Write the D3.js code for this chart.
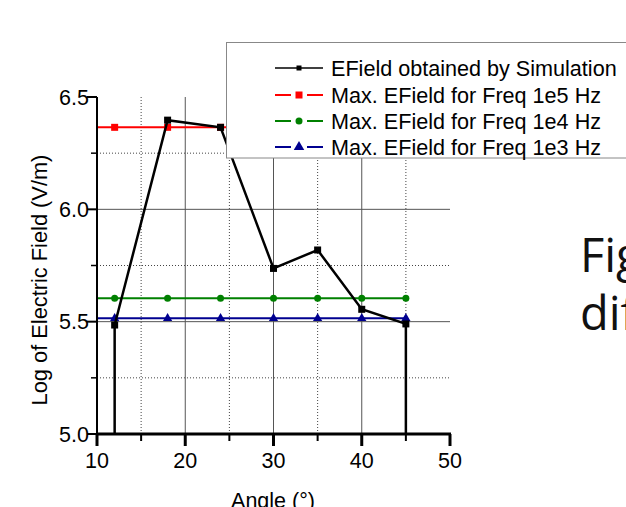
<!DOCTYPE html>
<html><head><meta charset="utf-8">
<script src="https://cdn.jsdelivr.net/npm/d3@7"></script>
<style>
html,body{margin:0;padding:0;background:#fff;}
svg{display:block;}
text{font-family:"Liberation Sans",Arial,sans-serif;fill:#000;}
</style></head>
<body>
<svg id="chart" width="626" height="507"></svg>
<script>
// ---- data ----
const simAngles = [12, 12, 18, 24, 30, 35, 40, 45, 45];
const simValues = [4.0, 5.485, 6.397, 6.365, 5.737, 5.819, 5.555, 5.49, 4.0];
const refAngles = [12, 18, 24, 30, 35, 40, 45];
const refLineStart = 10;
const max1e5 = 6.365;
const max1e4 = 5.604;
const max1e3 = 5.515;
const xTicks = [10, 20, 30, 40, 50];
const xMinor = [15, 25, 35, 45];
const yTicks = [5.0, 5.5, 6.0, 6.5];
const yMinor = [5.25, 5.75, 6.25];
const legendLabels = ["EField obtained by Simulation", "Max. EField for Freq 1e5 Hz",
  "Max. EField for Freq 1e4 Hz", "Max. EField for Freq 1e3 Hz"];

const svg = d3.select("#chart");
const L = 97, R = 450, T = 97, B = 434;
const x = d3.scaleLinear().domain([10, 50]).range([L, R]);
const y = d3.scaleLinear().domain([5.0, 6.5]).range([B, T]);

// grid
const g = svg.append("g");
g.selectAll(".vmin").data(xMinor).join("line")
  .attr("x1", d => x(d)).attr("x2", d => x(d)).attr("y1", T).attr("y2", B)
  .attr("stroke", "#444").attr("stroke-width", 1).attr("stroke-dasharray", "1,2");
g.selectAll(".vmaj").data(xTicks.slice(1, -1)).join("line")
  .attr("x1", d => x(d)).attr("x2", d => x(d)).attr("y1", T).attr("y2", B)
  .attr("stroke", "#555").attr("stroke-width", 1);
g.selectAll(".hmin").data(yMinor).join("line")
  .attr("x1", L).attr("x2", R).attr("y1", d => y(d)).attr("y2", d => y(d))
  .attr("stroke", "#444").attr("stroke-width", 1).attr("stroke-dasharray", "1,2");
g.selectAll(".hmaj").data(yTicks.slice(1, -1)).join("line")
  .attr("x1", L).attr("x2", R).attr("y1", d => y(d)).attr("y2", d => y(d))
  .attr("stroke", "#555").attr("stroke-width", 1);

// clip
svg.append("clipPath").attr("id", "clip").append("rect")
  .attr("x", L).attr("y", 0).attr("width", R - L + 5).attr("height", B);

const plot = svg.append("g").attr("clip-path", "url(#clip)");
const line = d3.line().x(d => x(d[0])).y(d => y(d[1]));

// reference series
const refs = [
  {v: max1e5, color: "#ff0000", shape: "square"},
  {v: max1e4, color: "#008000", shape: "circle"},
  {v: max1e3, color: "#000090", shape: "triangle"}
];
function marker(sel, shape, color, size) {
  if (shape === "square") {
    sel.append("rect").attr("x", -size / 2).attr("y", -size / 2).attr("width", size).attr("height", size).attr("fill", color);
  } else if (shape === "circle") {
    sel.append("circle").attr("r", size / 2).attr("fill", color);
  } else {
    sel.append("path").attr("d", d3.symbol(d3.symbolTriangle, size * size * 0.75)()).attr("fill", color);
  }
}
refs.slice().reverse().forEach(r => {
  const pts = [[refLineStart, r.v]].concat(refAngles.map(a => [a, r.v]));
  plot.append("path").attr("d", line(pts)).attr("fill", "none")
    .attr("stroke", r.color).attr("stroke-width", 2);
  refAngles.forEach(a => {
    const m = plot.append("g").attr("transform", `translate(${x(a)},${y(r.v)})`);
    marker(m, r.shape, r.color, 7);
  });
});

// simulation
const simPts = simAngles.map((a, i) => [a, simValues[i]]);
plot.append("path").attr("d", line(simPts)).attr("fill", "none")
  .attr("stroke", "#000").attr("stroke-width", 2.5).attr("stroke-linejoin", "miter");
simPts.filter(p => p[1] >= 5.0).forEach(p => {
  plot.append("rect").attr("x", x(p[0]) - 3.5).attr("y", y(p[1]) - 3.5)
    .attr("width", 7).attr("height", 7).attr("fill", "#000");
});

// axes
const yAxis = svg.append("g");
yAxis.append("line").attr("x1", L).attr("x2", L).attr("y1", T).attr("y2", B + 1)
  .attr("stroke", "#000").attr("stroke-width", 2);
yAxis.selectAll(".yt").data(yTicks).join("line")
  .attr("x1", L - 10).attr("x2", L).attr("y1", d => y(d)).attr("y2", d => y(d))
  .attr("stroke", "#000").attr("stroke-width", 2);
yAxis.selectAll(".ytm").data(yMinor).join("line")
  .attr("x1", L - 6).attr("x2", L).attr("y1", d => y(d)).attr("y2", d => y(d))
  .attr("stroke", "#000").attr("stroke-width", 1.5);
yAxis.selectAll(".yl").data(yTicks).join("text")
  .attr("x", L - 8).attr("y", d => y(d) + 7.5).attr("text-anchor", "end")
  .attr("font-size", 21.5).text(d => d3.format(".1f")(d));

const xAxis = svg.append("g");
xAxis.append("line").attr("x1", L - 1).attr("x2", R + 1).attr("y1", B).attr("y2", B)
  .attr("stroke", "#000").attr("stroke-width", 3);
xAxis.selectAll(".xt").data(xTicks).join("line")
  .attr("x1", d => x(d)).attr("x2", d => x(d)).attr("y1", B).attr("y2", B + 12)
  .attr("stroke", "#000").attr("stroke-width", 3);
xAxis.selectAll(".xtm").data(xMinor).join("line")
  .attr("x1", d => x(d)).attr("x2", d => x(d)).attr("y1", B).attr("y2", B + 7)
  .attr("stroke", "#000").attr("stroke-width", 2);
xAxis.selectAll(".xl").data(xTicks).join("text")
  .attr("x", d => x(d)).attr("y", 468).attr("text-anchor", "middle")
  .attr("font-size", 21.5).text(d => d);

// axis titles
svg.append("text").attr("x", 273).attr("y", 508).attr("text-anchor", "middle")
  .attr("font-size", 21.5).text("Angle (°)");
svg.append("text").attr("transform", "translate(47,280) rotate(-90)")
  .attr("text-anchor", "middle").attr("font-size", 21.8).text("Log of Electric Field (V/m)");

// legend
const lg = svg.append("g");
lg.append("rect").attr("x", 226.5).attr("y", 42.5).attr("width", 420).attr("height", 115.5)
  .attr("fill", "#fff").attr("stroke", "#888").attr("stroke-width", 1);
const legendItems = [
  {color: "#000", shape: "square", dashed: false, size: 5},
  {color: "#ff0000", shape: "square", dashed: true, size: 7},
  {color: "#008000", shape: "circle", dashed: true, size: 7},
  {color: "#000090", shape: "triangle", dashed: true, size: 8}
];
const rowY = [68, 95, 121, 147];
legendItems.forEach((it, i) => {
  const yy = rowY[i];
  if (it.dashed) {
    lg.append("line").attr("x1", 275).attr("x2", 291).attr("y1", yy).attr("y2", yy)
      .attr("stroke", it.color).attr("stroke-width", 2);
    lg.append("line").attr("x1", 307).attr("x2", 323).attr("y1", yy).attr("y2", yy)
      .attr("stroke", it.color).attr("stroke-width", 2);
  } else {
    lg.append("line").attr("x1", 275).attr("x2", 323).attr("y1", yy).attr("y2", yy)
      .attr("stroke", it.color).attr("stroke-width", 1.5);
  }
  const m = lg.append("g").attr("transform", `translate(299,${yy})`);
  marker(m, it.shape, it.color, it.size);
  lg.append("text").attr("x", 331).attr("y", yy + 7.5).attr("font-size", 21.6)
    .text(legendLabels[i]);
});

// stray slide text
svg.append("text").attr("x", 580).attr("y", 272).attr("font-size", 47)
  .style("font-family", "'Open Sans','Noto Sans',sans-serif").style("fill", "#111").text("Fig");
svg.append("text").attr("x", 580).attr("y", 330).attr("font-size", 47)
  .style("font-family", "'Open Sans','Noto Sans',sans-serif").style("fill", "#111").text("dif");
</script>
</body></html>
